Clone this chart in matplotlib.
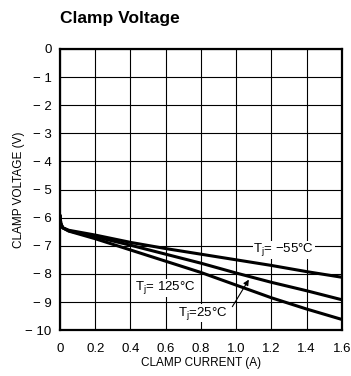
import matplotlib.pyplot as plt
import numpy as np

plt.rcParams['font.family'] = ['Liberation Sans Narrow', 'Liberation Sans', 'DejaVu Sans']

# clamp current (A)
current = [0.0, 0.004, 0.015, 0.05, 0.2, 0.4, 0.6, 0.8, 1.0, 1.2, 1.4, 1.6]
# clamp voltage (V) per junction temperature
v_m55 = [-5.9, -6.2, -6.36, -6.45, -6.62, -6.88, -7.1, -7.3, -7.5, -7.7, -7.92, -8.12]
v_25 = [-5.9, -6.2, -6.36, -6.47, -6.68, -6.98, -7.3, -7.62, -7.97, -8.3, -8.6, -8.92]
v_125 = [-5.9, -6.2, -6.36, -6.48, -6.75, -7.15, -7.55, -7.95, -8.4, -8.85, -9.25, -9.62]

xticks = [0, 0.2, 0.4, 0.6, 0.8, 1.0, 1.2, 1.4, 1.6]
xtick_labels = ['0', '0.2', '0.4', '0.6', '0.8', '1.0', '1.2', '1.4', '1.6']
yticks = list(range(0, -11, -1))
ytick_labels = ['0'] + [f'\u2212 {abs(v)}' for v in yticks[1:]]

fig = plt.figure(figsize=(3.51, 3.76), dpi=100)
ax = fig.add_axes([0.171, 0.122, 0.803, 0.748])

for v in (v_m55, v_25, v_125):
    ax.plot(current, v, color='black', lw=2.2, solid_capstyle='butt')

ax.set_xlim(0, 1.6)
ax.set_ylim(-10, 0)
ax.set_xticks(xticks)
ax.set_xticklabels(xtick_labels, fontsize=9.5)
ax.set_yticks(yticks)
ax.set_yticklabels(ytick_labels, fontsize=9.5)
ax.tick_params(axis='x', length=0, pad=9)
ax.tick_params(axis='y', length=0, pad=6)
ax.grid(True, color='black', lw=0.8)
for s in ax.spines.values():
    s.set_linewidth(1.6)

ax.set_xlabel('CLAMP CURRENT (A)', fontsize=8.5, labelpad=2)
ax.set_ylabel('CLAMP VOLTAGE (V)', fontsize=8.5, labelpad=0)
fig.text(0.172, 0.952, 'Clamp Voltage', fontsize=12.5, fontweight='bold',
         ha='left', va='center')

box = dict(facecolor='white', edgecolor='none', pad=0.5)
ax.text(1.27, -7.15, 'T$_\\mathregular{j}$= \u221255\u00b0C', fontsize=9.5,
        ha='center', va='center', bbox=box)
ax.text(0.6, -8.5, 'T$_\\mathregular{j}$= 125\u00b0C', fontsize=9.5,
        ha='center', va='center', bbox=box)
ax.text(0.81, -9.4, 'T$_\\mathregular{j}$=25\u00b0C', fontsize=9.5,
        ha='center', va='center', bbox=box)
ax.annotate('', xy=(1.08, -8.12), xytext=(0.97, -9.25),
            arrowprops=dict(arrowstyle='-|>', color='black', lw=0.8,
                            mutation_scale=8))

fig.savefig('out.png', dpi=100)
